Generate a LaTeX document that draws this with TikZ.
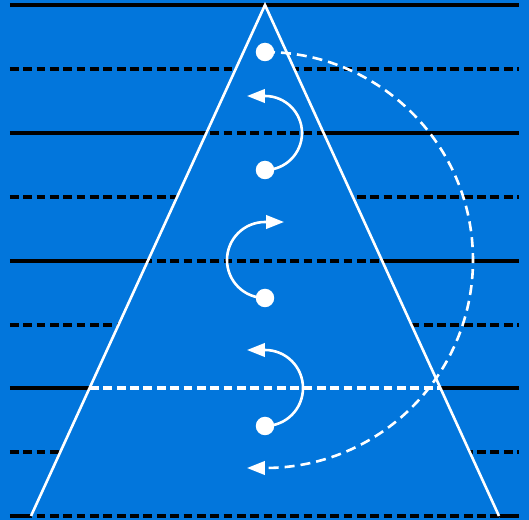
\documentclass[tikz,border=0pt]{standalone}
\usepackage{tikz}
\usetikzlibrary{arrows.meta, calc}
\usepackage{xcolor}

\definecolor{sfondo}{RGB}{2,118,220}
\tikzset{
  riga/.style={black, line width=0.066cm},
  rigatratt/.style={black, line width=0.066cm, dash pattern=on 0.175cm off 0.092cm},
  bordo/.style={white, line width=0.052cm},
  punto/.style={circle, fill=white, inner sep=0pt, minimum size=0.37cm},
  freccia/.style={white, line width=0.052cm, -{Triangle[length=0.36cm, width=0.27cm]}},
}

\begin{document}
\begin{tikzpicture}[x=0.02cm, y=0.02cm]
        % Sfondo
        \fill[sfondo] (0,0) rectangle (529,-520);
        \useasboundingbox (0,0) rectangle (529,-520);

        % Triangolo
        \coordinate (vertice) at (265,-5);
        \coordinate (bsx) at (31,-516);
        \coordinate (bdx) at (499,-516);
        \coordinate (csx) at ($(vertice)!1.03!(bsx)$);
        \coordinate (cdx) at ($(vertice)!1.03!(bdx)$);

        % Righe fuori dal triangolo
        \begin{scope}[even odd rule]
            \clip (0,0) rectangle (529,-520) (vertice) -- (csx) -- (cdx) -- cycle;
            \draw[riga] (10,-5) -- (519,-5);
            \draw[rigatratt] (10,-69) -- (519,-69);
            \draw[riga] (10,-133) -- (519,-133);
            \draw[rigatratt] (10,-197) -- (519,-197);
            \draw[riga] (10,-261) -- (519,-261);
            \draw[rigatratt] (10,-325) -- (519,-325);
            \draw[riga] (10,-388) -- (519,-388);
            \draw[rigatratt] (10,-452) -- (519,-452);
            \draw[riga] (10,-516) -- (519,-516);
        \end{scope}

        % Righe dentro il triangolo
        \begin{scope}
            \clip (vertice) -- (csx) -- (cdx) -- cycle;
            \draw[rigatratt] (10,-133) -- (519,-133);
            \draw[rigatratt] (10,-261) -- (519,-261);
            \draw[rigatratt, white] (10,-388) -- (519,-388);
            \draw[rigatratt] (10,-516) -- (519,-516);
        \end{scope}

        \draw[bordo] (bsx) -- (vertice) -- (bdx);

        % Punti
        \node[punto] (p1) at (265,-52) {};
        \node[punto] (p2) at (265,-170) {};
        \node[punto] (p3) at (265,-298) {};
        \node[punto] (p4) at (265,-426) {};

        % Frecce
        \coordinate (f1) at (247,-96);
        \coordinate (f2) at (284,-222);
        \coordinate (f3) at (247,-350);
        \coordinate (f4) at (247,-468);
        \draw[freccia] (p2.center) arc[start angle=-90, end angle=90, radius=37] -- (f1);
        \draw[freccia] (p3.center) arc[start angle=-90, end angle=-270, radius=38] -- (f2);
        \draw[freccia] (p4.center) arc[start angle=-90, end angle=90, radius=38] -- (f3);
        \draw[freccia, dash pattern=on 0.2cm off 0.12cm] (p1.center) arc[start angle=90, end angle=-90, radius=208] -- (f4);
\end{tikzpicture}
\end{document}
